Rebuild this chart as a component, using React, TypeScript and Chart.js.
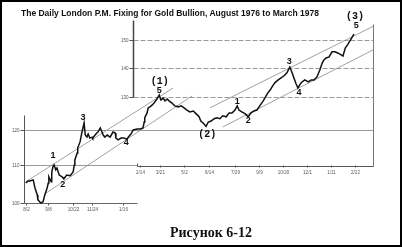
import React, { useEffect, useRef } from "react";
import { Chart, registerables } from "chart.js";

Chart.register(...registerables);

// Gold, London P.M. fix — x: days since 1 Aug 1976, y: US$ per oz
const goldDays = [
  0, 4, 7, 13, 16, 20, 21, 26, 30, 33, 37, 39, 40, 44, 45, 47, 49, 52, 54, 58,
  63, 66, 71, 77, 82, 84, 85, 89, 90, 94, 97, 99, 101, 103, 106, 108, 111, 115, 116, 120,
  123, 125, 129, 132, 134, 137, 141, 146, 151, 155, 156, 160, 165, 170, 175, 179, 182, 186, 193, 198,
  203, 205, 206, 210, 212, 215, 219, 222, 227, 231, 234, 238, 241, 245, 248, 253, 258, 264, 269, 274,
  279, 284, 290, 295, 300, 303, 307, 310, 312, 316, 321, 326, 331, 336, 341, 347, 352, 357, 362, 366,
  369, 374, 380, 385, 390, 395, 400, 405, 411, 416, 419, 423, 426, 431, 437, 442, 447, 452, 457, 461,
  464, 468, 471, 475, 478, 483, 489, 494, 499, 504, 509, 513, 516, 520, 525, 530, 535, 540, 546, 549,
  553, 558, 561, 564, 568,
];
const goldPrices = [
  105.1, 105.6, 105.6, 105.9, 103.8, 102.0, 100.8, 100.0, 100.3, 102.0, 103.8, 105.1, 106.7, 105.4, 107.8, 109.4, 109.9, 108.6, 109.1, 107.2,
  106.7, 106.2, 107.2, 107.0, 108.0, 109.9, 111.3, 113.2, 114.7, 116.4, 119.0, 120.5, 122.0, 118.4, 117.8, 118.7, 117.5, 117.8, 117.5, 118.4,
  119.0, 119.3, 120.5, 119.3, 118.4, 117.8, 118.4, 117.8, 119.3, 119.0, 117.5, 117.0, 117.5, 117.5, 117.2, 118.1, 118.7, 119.9, 120.2, 120.2,
  120.5, 122.3, 123.6, 125.1, 126.7, 127.0, 127.6, 128.2, 129.5, 130.8, 129.2, 129.8, 128.9, 129.5, 128.9, 128.2, 127.3, 127.0, 127.3, 126.7,
  126.0, 125.4, 125.7, 124.8, 123.9, 122.6, 122.0, 121.4, 121.0, 122.3, 122.6, 123.3, 123.6, 123.3, 124.2, 123.9, 125.1, 125.1, 126.0, 127.3,
  126.0, 125.4, 124.8, 123.9, 125.1, 125.7, 126.0, 127.3, 128.9, 130.5, 131.5, 132.4, 133.4, 134.8, 135.8, 136.5, 137.2, 138.2, 140.2, 138.2,
  136.5, 134.4, 133.1, 134.4, 135.1, 135.8, 135.1, 135.8, 135.8, 136.8, 139.2, 141.6, 142.7, 143.4, 143.8, 145.6, 145.6, 145.2, 144.5, 144.1,
  147.0, 148.5, 149.6, 150.7, 152.2,
];

// Trend channels (start / end)
const channelLeftUpperDays = [0, 255];
const channelLeftUpperPrices = [105.4, 133.1];
const channelLeftLowerDays = [33, 288];
const channelLeftLowerPrices = [102.3, 130.5];
const channelRightUpperDays = [319, 601];
const channelRightUpperPrices = [126.7, 155.1];
const channelRightLowerDays = [341, 601];
const channelRightLowerPrices = [120.8, 146.3];

// Wave labels
const waveTexts = ["1", "2", "3", "4", "5", "(1)", "(2)", "1", "2", "3", "4", "5", "(3)"];
const waveDays = [47, 64, 99, 174, 231, 232, 314, 366, 385, 456, 473, 572, 570];
const wavePrices = [112.4, 104.8, 123.6, 116.1, 132.4, 135.1, 118.7, 128.6, 122.9, 142.0, 131.5, 155.3, 158.8];

// Axis ticks
const leftPriceTicks = [100, 110, 120];
const rightPriceTicks = [130, 140, 150];
const leftDateTicks = [1, 38, 82, 115, 168];
const leftDateLabels = ["8/2", "9/8", "10/22", "11/24", "1/16"];
const rightDateTicks = [197, 232, 274, 317, 362, 404, 445, 487, 528, 570];
const rightDateLabels = ["2/14", "3/21", "5/2", "6/14", "7/29", "9/9", "10/20", "12/1", "1/11", "2/22"];

// Panel frames in data units (layout)
const X_MIN = -3;
const X_MAX = 601;
const Y_MIN = 100;
const Y_MAX = 157.6;
const LEFT_END_DAY = 193;
const LEFT_AXIS_TOP = 124.5;
const RIGHT_START_DAY = 185.6;
const RIGHT_AXIS_START_DAY = 192;
const RIGHT_BOTTOM = 109.6;
const RIGHT_BORDER_TOP = 156;

const pts = (xs: number[], ys: number[]) => xs.map((d, i) => ({ x: d, y: ys[i] }));

const framePlugin = {
  id: "frames",
  beforeDatasetsDraw(chart: any) {
    const { ctx } = chart;
    const xs = chart.scales.x;
    const ys = chart.scales.y;
    const X = (d: number) => Math.round(xs.getPixelForValue(d)) + 0.5;
    const Y = (p: number) => Math.round(ys.getPixelForValue(p)) + 0.5;
    const line = (x1: number, y1: number, x2: number, y2: number, color: string, w = 1, dash: number[] = []) => {
      ctx.beginPath();
      ctx.setLineDash(dash);
      ctx.strokeStyle = color;
      ctx.lineWidth = w;
      ctx.moveTo(x1, y1);
      ctx.lineTo(x2, y2);
      ctx.stroke();
    };
    ctx.save();
    // grid lines
    line(X(X_MIN), Y(110), X(LEFT_END_DAY), Y(110), "#9a9a9a");
    line(X(X_MIN), Y(120), X(X_MAX), Y(120), "#9a9a9a");
    rightPriceTicks.forEach((p) => line(X(RIGHT_START_DAY), Y(p), X(X_MAX), Y(p), "#9a9a9a", 1, [5, 2]));
    // left frame
    line(X(X_MIN), Y(LEFT_AXIS_TOP), X(X_MIN), Y(Y_MIN), "#555");
    line(X(X_MIN), Y(Y_MIN), X(LEFT_END_DAY), Y(Y_MIN), "#666");
    // right frame
    line(X(RIGHT_START_DAY), Y(Y_MAX), X(RIGHT_START_DAY), Y(130), "#444", 1.5);
    line(X(X_MAX), Y(RIGHT_BORDER_TOP), X(X_MAX), Y(RIGHT_BOTTOM), "#777");
    line(X(RIGHT_AXIS_START_DAY), Y(RIGHT_BOTTOM), X(X_MAX), Y(RIGHT_BOTTOM), "#555");
    line(X(RIGHT_AXIS_START_DAY), Y(RIGHT_BOTTOM), X(RIGHT_AXIS_START_DAY), Y(RIGHT_BOTTOM) - 3, "#555");

    ctx.setLineDash([]);
    ctx.font = '4.5px "Liberation Sans", Arial, sans-serif';
    ctx.fillStyle = "#555";
    ctx.textBaseline = "middle";
    ctx.textAlign = "right";
    leftPriceTicks.forEach((p) => {
      ctx.fillText(String(p), X(X_MIN) - 5, Y(p));
      line(X(X_MIN) - 4, Y(p), X(X_MIN), Y(p), "#555");
    });
    rightPriceTicks.forEach((p) => {
      ctx.fillText(String(p), X(RIGHT_START_DAY) - 5, Y(p));
      line(X(RIGHT_START_DAY) - 4, Y(p), X(RIGHT_START_DAY), Y(p), "#555");
    });
    ctx.textAlign = "center";
    ctx.textBaseline = "top";
    leftDateTicks.forEach((d, i) => {
      line(X(d), Y(Y_MIN), X(d), Y(Y_MIN) + 2, "#555");
      ctx.fillText(leftDateLabels[i], X(d), Y(Y_MIN) + 4);
    });
    rightDateTicks.forEach((d, i) => {
      line(X(d), Y(RIGHT_BOTTOM) - 1, X(d), Y(RIGHT_BOTTOM) + 1, "#555");
      ctx.fillText(rightDateLabels[i], X(d), Y(RIGHT_BOTTOM) + 4);
    });
    ctx.restore();
  },
  afterDatasetsDraw(chart: any) {
    const { ctx } = chart;
    const xs = chart.scales.x;
    const ys = chart.scales.y;
    ctx.save();
    ctx.fillStyle = "#111";
    ctx.textAlign = "center";
    ctx.textBaseline = "middle";
    waveTexts.forEach((t, i) => {
      ctx.font = t.startsWith("(")
        ? 'bold 10px "Liberation Mono", "DejaVu Sans Mono", monospace'
        : 'bold 9px "Liberation Sans", Arial, sans-serif';
      ctx.fillText(t, xs.getPixelForValue(waveDays[i]), ys.getPixelForValue(wavePrices[i]));
    });
    ctx.restore();
  },
};

export default function App() {
  const ref = useRef<HTMLCanvasElement>(null);
  useEffect(() => {
    if (!ref.current) return;
    const channel = (xs: number[], ys: number[]) => ({
      data: pts(xs, ys),
      borderColor: "#8a8a8a",
      borderWidth: 0.8,
      pointRadius: 0,
      fill: false,
    });
    const chart = new Chart(ref.current, {
      type: "line",
      data: {
        datasets: [
          {
            data: pts(goldDays, goldPrices),
            borderColor: "#111",
            borderWidth: 1.5,
            pointRadius: 0,
            tension: 0,
            fill: false,
          },
          channel(channelLeftUpperDays, channelLeftUpperPrices),
          channel(channelLeftLowerDays, channelLeftLowerPrices),
          channel(channelRightUpperDays, channelRightUpperPrices),
          channel(channelRightLowerDays, channelRightLowerPrices),
        ],
      },
      options: {
        animation: false,
        responsive: false,
        devicePixelRatio: 1,
        clip: false,
        layout: { padding: { left: 24, right: 29, top: 20, bottom: 44 } },
        plugins: { legend: { display: false }, tooltip: { enabled: false }, title: { display: false } },
        scales: {
          x: { type: "linear", min: X_MIN, max: X_MAX, display: false, bounds: "data" },
          y: { type: "logarithmic", min: Y_MIN, max: Y_MAX, display: false, bounds: "data" },
        },
      } as any,
      plugins: [framePlugin],
    });
    return () => chart.destroy();
  }, []);

  return (
    <div style={{ position: "fixed", left: 0, top: 0, width: 402, height: 247, background: "#fff", overflow: "hidden" }}>
      <canvas ref={ref} width={402} height={247} style={{ position: "absolute", left: 0, top: 0, width: 402, height: 247 }} />
      <div
        style={{
          position: "absolute",
          left: 21,
          top: 8,
          font: 'bold 8.5px "Liberation Sans", Arial, sans-serif',
          whiteSpace: "nowrap",
          color: "#111",
          lineHeight: "10px",
        }}
      >
        The Daily London P.M. Fixing for Gold Bullion, August 1976 to March 1978
      </div>
      <div
        style={{
          position: "absolute",
          left: 170,
          top: 225,
          font: 'bold 14px "Liberation Serif", "Times New Roman", serif',
          whiteSpace: "nowrap",
          color: "#111",
          lineHeight: "16px",
        }}
      >
        Рисунок 6-12
      </div>
      <div style={{ position: "absolute", inset: 0, border: "2px solid #000", boxSizing: "border-box", pointerEvents: "none" }} />
    </div>
  );
}
